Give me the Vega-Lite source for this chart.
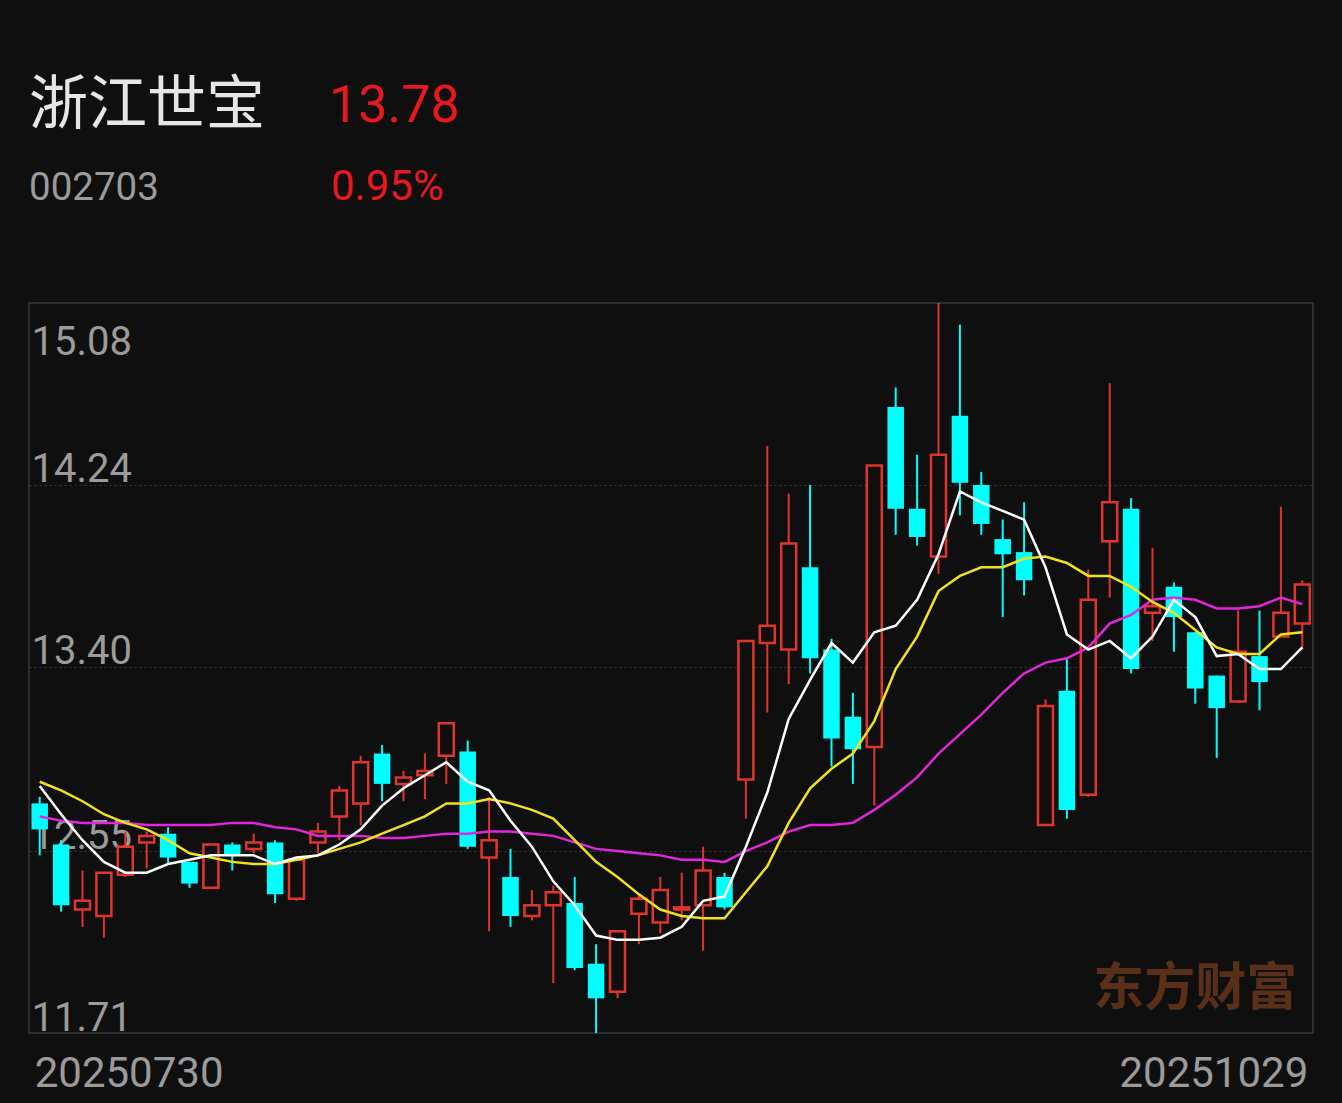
{
  "$schema": "https://vega.github.io/schema/vega-lite/v6.json",
  "background": "#0f0f0f",
  "padding": {"left": 28, "top": 0, "right": 30, "bottom": 12},
  "config": {"view": {"stroke": null}, "font": "Roboto"},
  "spacing": 71,
  "vconcat": [
    {
      "width": 1284,
      "height": 230,
      "data": {"values": [
        {"t": "浙江世宝", "col": "a", "row": "r1", "kind": "name"},
        {"t": "13.78", "col": "b", "row": "r1", "kind": "price"},
        {"t": "002703", "col": "a", "row": "r2", "kind": "code"},
        {"t": "0.95%", "col": "b", "row": "r2", "kind": "pct"}
      ]},
      "encoding": {
        "x": {"field": "col", "type": "nominal", "scale": {"type": "point", "range": [0, 300], "padding": 0}, "axis": null},
        "y": {"field": "row", "type": "nominal", "scale": {"type": "point", "range": [124, 200], "padding": 0}, "axis": null},
        "text": {"field": "t"}
      },
      "layer": [
        {
          "transform": [{"filter": "datum.kind == 'name'"}],
          "mark": {"type": "text", "align": "left", "baseline": "alphabetic", "font": "Noto Sans CJK SC", "fontSize": 59, "color": "#e6e6e6"}
        },
        {
          "transform": [{"filter": "datum.kind == 'price'"}],
          "mark": {"type": "text", "align": "left", "baseline": "alphabetic", "font": "Roboto", "fontSize": 52, "color": "#e8191e", "dy": -2}
        },
        {
          "transform": [{"filter": "datum.kind == 'code'"}],
          "mark": {"type": "text", "align": "left", "baseline": "alphabetic", "font": "Roboto", "fontSize": 38.5, "color": "#9b9b9b"}
        },
        {
          "transform": [{"filter": "datum.kind == 'pct'"}],
          "mark": {"type": "text", "align": "left", "baseline": "alphabetic", "font": "Roboto", "fontSize": 42, "color": "#e8191e", "dx": 2}
        }
      ]
    },
    {
      "width": 1284,
      "height": 730,
      "view": {"stroke": "#383838", "strokeWidth": 1.5},
      "data": {"values": [
        {"d": "20250730", "o": 12.77, "h": 12.80, "l": 12.53, "c": 12.65, "ma5": 12.85, "ma10": 12.87, "ma20": 12.71},
        {"d": "20250731", "o": 12.58, "h": 12.60, "l": 12.27, "c": 12.30, "ma5": 12.72, "ma10": 12.83, "ma20": 12.69},
        {"d": "20250801", "o": 12.28, "h": 12.46, "l": 12.20, "c": 12.32, "ma5": 12.60, "ma10": 12.78, "ma20": 12.68},
        {"d": "20250804", "o": 12.25, "h": 12.45, "l": 12.15, "c": 12.45, "ma5": 12.50, "ma10": 12.72, "ma20": 12.68},
        {"d": "20250805", "o": 12.44, "h": 12.64, "l": 12.43, "c": 12.57, "ma5": 12.45, "ma10": 12.68, "ma20": 12.68},
        {"d": "20250806", "o": 12.59, "h": 12.64, "l": 12.47, "c": 12.62, "ma5": 12.45, "ma10": 12.65, "ma20": 12.67},
        {"d": "20250807", "o": 12.63, "h": 12.66, "l": 12.49, "c": 12.52, "ma5": 12.49, "ma10": 12.60, "ma20": 12.67},
        {"d": "20250808", "o": 12.50, "h": 12.50, "l": 12.38, "c": 12.40, "ma5": 12.51, "ma10": 12.54, "ma20": 12.67},
        {"d": "20250811", "o": 12.38, "h": 12.58, "l": 12.38, "c": 12.58, "ma5": 12.53, "ma10": 12.52, "ma20": 12.67},
        {"d": "20250812", "o": 12.58, "h": 12.59, "l": 12.46, "c": 12.53, "ma5": 12.53, "ma10": 12.50, "ma20": 12.68},
        {"d": "20250813", "o": 12.56, "h": 12.63, "l": 12.54, "c": 12.59, "ma5": 12.53, "ma10": 12.49, "ma20": 12.68},
        {"d": "20250814", "o": 12.59, "h": 12.60, "l": 12.31, "c": 12.35, "ma5": 12.49, "ma10": 12.49, "ma20": 12.66},
        {"d": "20250815", "o": 12.33, "h": 12.51, "l": 12.32, "c": 12.51, "ma5": 12.52, "ma10": 12.51, "ma20": 12.65},
        {"d": "20250818", "o": 12.59, "h": 12.68, "l": 12.54, "c": 12.64, "ma5": 12.53, "ma10": 12.53, "ma20": 12.62},
        {"d": "20250819", "o": 12.71, "h": 12.85, "l": 12.60, "c": 12.83, "ma5": 12.58, "ma10": 12.56, "ma20": 12.62},
        {"d": "20250820", "o": 12.77, "h": 12.99, "l": 12.67, "c": 12.96, "ma5": 12.65, "ma10": 12.59, "ma20": 12.62},
        {"d": "20250821", "o": 13.00, "h": 13.04, "l": 12.78, "c": 12.86, "ma5": 12.76, "ma10": 12.63, "ma20": 12.61},
        {"d": "20250822", "o": 12.86, "h": 12.92, "l": 12.78, "c": 12.89, "ma5": 12.84, "ma10": 12.67, "ma20": 12.61},
        {"d": "20250825", "o": 12.90, "h": 13.00, "l": 12.79, "c": 12.92, "ma5": 12.90, "ma10": 12.71, "ma20": 12.62},
        {"d": "20250826", "o": 12.99, "h": 13.14, "l": 12.86, "c": 13.14, "ma5": 12.96, "ma10": 12.77, "ma20": 12.63},
        {"d": "20250827", "o": 13.01, "h": 13.06, "l": 12.56, "c": 12.57, "ma5": 12.87, "ma10": 12.77, "ma20": 12.63},
        {"d": "20250828", "o": 12.52, "h": 12.80, "l": 12.18, "c": 12.60, "ma5": 12.83, "ma10": 12.79, "ma20": 12.64},
        {"d": "20250829", "o": 12.43, "h": 12.56, "l": 12.20, "c": 12.25, "ma5": 12.69, "ma10": 12.77, "ma20": 12.64},
        {"d": "20250901", "o": 12.25, "h": 12.37, "l": 12.23, "c": 12.30, "ma5": 12.57, "ma10": 12.74, "ma20": 12.63},
        {"d": "20250902", "o": 12.30, "h": 12.39, "l": 11.94, "c": 12.36, "ma5": 12.41, "ma10": 12.70, "ma20": 12.62},
        {"d": "20250903", "o": 12.31, "h": 12.43, "l": 12.00, "c": 12.01, "ma5": 12.30, "ma10": 12.60, "ma20": 12.59},
        {"d": "20250904", "o": 12.03, "h": 12.12, "l": 11.71, "c": 11.87, "ma5": 12.16, "ma10": 12.50, "ma20": 12.56},
        {"d": "20250905", "o": 11.90, "h": 12.18, "l": 11.87, "c": 12.18, "ma5": 12.14, "ma10": 12.43, "ma20": 12.55},
        {"d": "20250908", "o": 12.26, "h": 12.35, "l": 12.12, "c": 12.33, "ma5": 12.14, "ma10": 12.35, "ma20": 12.54},
        {"d": "20250909", "o": 12.22, "h": 12.43, "l": 12.17, "c": 12.37, "ma5": 12.15, "ma10": 12.28, "ma20": 12.53},
        {"d": "20250910", "o": 12.28, "h": 12.45, "l": 12.23, "c": 12.29, "ma5": 12.20, "ma10": 12.25, "ma20": 12.51},
        {"d": "20250911", "o": 12.30, "h": 12.57, "l": 12.09, "c": 12.46, "ma5": 12.32, "ma10": 12.24, "ma20": 12.51},
        {"d": "20250912", "o": 12.43, "h": 12.45, "l": 12.28, "c": 12.29, "ma5": 12.34, "ma10": 12.24, "ma20": 12.50},
        {"d": "20250915", "o": 12.88, "h": 13.52, "l": 12.70, "c": 13.52, "ma5": 12.57, "ma10": 12.36, "ma20": 12.55},
        {"d": "20250916", "o": 13.51, "h": 14.42, "l": 13.19, "c": 13.59, "ma5": 12.82, "ma10": 12.48, "ma20": 12.59},
        {"d": "20250917", "o": 13.48, "h": 14.20, "l": 13.32, "c": 13.97, "ma5": 13.16, "ma10": 12.68, "ma20": 12.64},
        {"d": "20250918", "o": 13.86, "h": 14.24, "l": 13.37, "c": 13.44, "ma5": 13.34, "ma10": 12.84, "ma20": 12.67},
        {"d": "20250919", "o": 13.48, "h": 13.53, "l": 12.94, "c": 13.07, "ma5": 13.51, "ma10": 12.93, "ma20": 12.67},
        {"d": "20250922", "o": 13.17, "h": 13.28, "l": 12.86, "c": 13.02, "ma5": 13.42, "ma10": 13.00, "ma20": 12.68},
        {"d": "20250923", "o": 13.03, "h": 14.33, "l": 12.76, "c": 14.33, "ma5": 13.56, "ma10": 13.15, "ma20": 12.74},
        {"d": "20250924", "o": 14.60, "h": 14.69, "l": 14.01, "c": 14.13, "ma5": 13.59, "ma10": 13.39, "ma20": 12.81},
        {"d": "20250925", "o": 14.13, "h": 14.38, "l": 13.96, "c": 14.00, "ma5": 13.71, "ma10": 13.54, "ma20": 12.89},
        {"d": "20250926", "o": 13.91, "h": 15.08, "l": 13.83, "c": 14.38, "ma5": 13.92, "ma10": 13.75, "ma20": 13.00},
        {"d": "20250929", "o": 14.56, "h": 14.98, "l": 14.10, "c": 14.25, "ma5": 14.21, "ma10": 13.82, "ma20": 13.09},
        {"d": "20250930", "o": 14.24, "h": 14.30, "l": 14.01, "c": 14.06, "ma5": 14.16, "ma10": 13.86, "ma20": 13.18},
        {"d": "20251009", "o": 13.99, "h": 14.08, "l": 13.63, "c": 13.92, "ma5": 14.12, "ma10": 13.86, "ma20": 13.28},
        {"d": "20251010", "o": 13.93, "h": 14.16, "l": 13.73, "c": 13.80, "ma5": 14.08, "ma10": 13.90, "ma20": 13.37},
        {"d": "20251013", "o": 12.67, "h": 13.25, "l": 12.67, "c": 13.22, "ma5": 13.86, "ma10": 13.91, "ma20": 13.42},
        {"d": "20251014", "o": 13.29, "h": 13.44, "l": 12.70, "c": 12.74, "ma5": 13.55, "ma10": 13.88, "ma20": 13.44},
        {"d": "20251015", "o": 12.81, "h": 13.85, "l": 12.80, "c": 13.71, "ma5": 13.48, "ma10": 13.82, "ma20": 13.49},
        {"d": "20251016", "o": 13.98, "h": 14.71, "l": 13.72, "c": 14.16, "ma5": 13.52, "ma10": 13.82, "ma20": 13.60},
        {"d": "20251017", "o": 14.13, "h": 14.18, "l": 13.37, "c": 13.39, "ma5": 13.44, "ma10": 13.77, "ma20": 13.64},
        {"d": "20251020", "o": 13.65, "h": 13.95, "l": 13.52, "c": 13.68, "ma5": 13.54, "ma10": 13.70, "ma20": 13.71},
        {"d": "20251021", "o": 13.77, "h": 13.79, "l": 13.47, "c": 13.63, "ma5": 13.71, "ma10": 13.65, "ma20": 13.72},
        {"d": "20251022", "o": 13.56, "h": 13.56, "l": 13.23, "c": 13.30, "ma5": 13.63, "ma10": 13.57, "ma20": 13.71},
        {"d": "20251023", "o": 13.36, "h": 13.36, "l": 12.98, "c": 13.21, "ma5": 13.45, "ma10": 13.49, "ma20": 13.67},
        {"d": "20251024", "o": 13.24, "h": 13.66, "l": 13.24, "c": 13.47, "ma5": 13.46, "ma10": 13.46, "ma20": 13.67},
        {"d": "20251027", "o": 13.45, "h": 13.66, "l": 13.20, "c": 13.33, "ma5": 13.39, "ma10": 13.46, "ma20": 13.68},
        {"d": "20251028", "o": 13.54, "h": 14.14, "l": 13.54, "c": 13.65, "ma5": 13.39, "ma10": 13.55, "ma20": 13.72},
        {"d": "20251029", "o": 13.60, "h": 13.80, "l": 13.48, "c": 13.78, "ma5": 13.49, "ma10": 13.56, "ma20": 13.69}
      ]},
      "layer": [
        {
          "data": {"values": [{}]},
          "mark": {"type": "text", "text": "东方财富", "font": "Noto Sans CJK SC", "fontWeight": "bold", "fontSize": 51, "color": "#5a2f17", "align": "center", "baseline": "middle"},
          "encoding": {
            "x": {"datum": "20251022", "type": "ordinal"},
            "y": {"datum": 11.91, "type": "quantitative"}
          }
        },
        {
          "mark": {"type": "rule", "strokeWidth": 2},
          "encoding": {
            "x": {
              "field": "d", "type": "ordinal",
              "scale": {"type": "band", "paddingInner": 0, "paddingOuter": 0},
              "axis": {
                "values": ["20250730", "20251029"],
                "domain": false, "ticks": false, "tickSize": 0, "grid": false,
                "labelAngle": 0, "labelLimit": 0,
                "labelAlign": {"condition": {"test": "datum.value == '20250730'", "value": "left"}, "value": "right"},
                "labelOffset": {"condition": {"test": "datum.value == '20250730'", "value": -5}, "value": 6},
                "labelBaseline": "alphabetic", "labelPadding": 53,
                "labelFont": "Roboto", "labelFontSize": 42, "labelColor": "#9b9b9b",
                "labelOverlap": false, "labelBound": false, "labelFlush": false,
                "title": null
              }
            },
            "y": {
              "field": "l", "type": "quantitative",
              "scale": {"domain": [11.71, 15.08], "zero": false, "nice": false},
              "axis": {
                "values": [11.71, 12.55, 13.40, 14.24, 15.08],
                "format": ".2f",
                "domain": false, "ticks": false, "tickSize": 0,
                "labelAlign": "left", "labelBaseline": "alphabetic", "labelPadding": -2,
                "labelOffset": {"condition": {"test": "datum.value > 15", "value": 51}, "value": -3},
                "labelFont": "Roboto", "labelFontSize": 40, "labelColor": "#9b9b9b",
                "labelOverlap": false, "labelBound": false, "labelFlush": false, "labelLimit": 0,
                "grid": true, "gridColor": "#3a3a3a", "gridDash": [2, 3], "gridWidth": 1,
                "gridOpacity": {"condition": {"test": "datum.value > 15 || datum.value < 11.8", "value": 0}, "value": 1},
                "title": null
              }
            },
            "y2": {"field": "h"},
            "color": {"condition": {"test": "datum.c >= datum.o", "value": "#e0352b"}, "value": "#00ffff"}
          }
        },
        {
          "transform": [{"filter": "datum.c >= datum.o"}],
          "mark": {"type": "bar", "size": 15, "fill": "#0f0f0f", "stroke": "#e0352b", "strokeWidth": 2.5},
          "encoding": {
            "x": {"field": "d", "type": "ordinal"},
            "y": {"field": "o", "type": "quantitative"},
            "y2": {"field": "c"}
          }
        },
        {
          "transform": [{"filter": "datum.c < datum.o"}],
          "mark": {"type": "bar", "size": 16.5, "fill": "#00ffff", "stroke": null},
          "encoding": {
            "x": {"field": "d", "type": "ordinal"},
            "y": {"field": "o", "type": "quantitative"},
            "y2": {"field": "c"}
          }
        },
        {
          "mark": {"type": "line", "color": "#e326d9", "strokeWidth": 2.5},
          "encoding": {
            "x": {"field": "d", "type": "ordinal"},
            "y": {"field": "ma20", "type": "quantitative"}
          }
        },
        {
          "mark": {"type": "line", "color": "#f2e21b", "strokeWidth": 2.5},
          "encoding": {
            "x": {"field": "d", "type": "ordinal"},
            "y": {"field": "ma10", "type": "quantitative"}
          }
        },
        {
          "mark": {"type": "line", "color": "#ffffff", "strokeWidth": 2.5},
          "encoding": {
            "x": {"field": "d", "type": "ordinal"},
            "y": {"field": "ma5", "type": "quantitative"}
          }
        }
      ]
    }
  ]
}
